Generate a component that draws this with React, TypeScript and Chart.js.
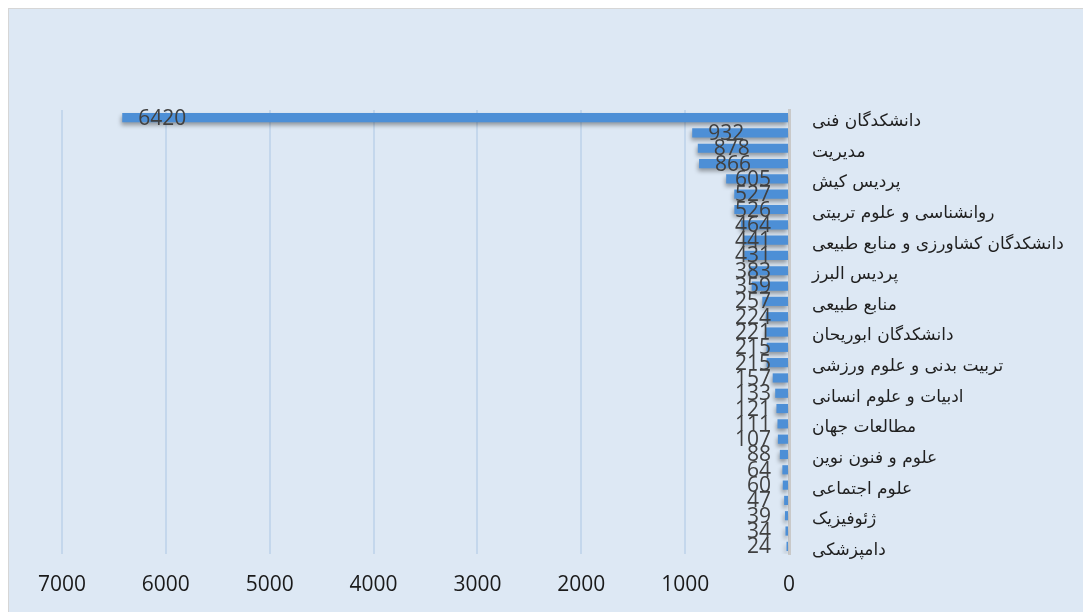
import React, { useEffect, useRef } from "react";
import { Chart, registerables } from "chart.js";

Chart.register(...registerables);

const categories: string[] = [
  "دانشکدگان فنی", "",
  "مدیریت", "",
  "پردیس کیش", "",
  "روانشناسی و علوم تربیتی", "",
  "دانشکدگان کشاورزی و منابع طبیعی", "",
  "پردیس البرز", "",
  "منابع طبیعی", "",
  "دانشکدگان ابوریحان", "",
  "تربیت بدنی و علوم ورزشی", "",
  "ادبیات و علوم انسانی", "",
  "مطالعات جهان", "",
  "علوم و فنون نوین", "",
  "علوم اجتماعی", "",
  "ژئوفیزیک", "",
  "دامپزشکی",
];

const values: number[] = [
  6420, 932, 878, 866, 605, 527, 526, 464, 441, 431,
  383, 359, 257, 224, 221, 215, 215, 157, 133, 121,
  111, 107, 88, 64, 60, 47, 39, 34, 24,
];

const xTicks: number[] = [0, 1000, 2000, 3000, 4000, 5000, 6000, 7000];

const NUM_FONT = "'Open Sans', 'Liberation Sans', sans-serif";
const FA_FONT = "'DejaVu Sans', sans-serif";

const shadowPlugin = {
  id: "barShadow",
  beforeDatasetsDraw(chart: any) {
    const ctx = chart.ctx;
    ctx.save();
    ctx.shadowColor = "rgba(0,0,0,0.35)";
    ctx.shadowBlur = 4;
    ctx.shadowOffsetX = -1;
    ctx.shadowOffsetY = 3;
  },
  afterDatasetsDraw(chart: any) {
    chart.ctx.restore();
  },
};

const valueLabelPlugin = {
  id: "valueLabels",
  afterDraw(chart: any) {
    const ctx = chart.ctx;
    const meta = chart.getDatasetMeta(0);
    const data = chart.data.datasets[0].data as number[];
    const maxRight = chart.chartArea.right - 18;
    ctx.save();
    ctx.font = `21px ${NUM_FONT}`;
    ctx.fillStyle = "#404040";
    ctx.textBaseline = "middle";
    ctx.textAlign = "left";
    meta.data.forEach((bar: any, i: number) => {
      const txt = String(data[i]);
      const w = ctx.measureText(txt).width;
      let x = bar.x + 16;
      if (x + w > maxRight) x = maxRight - w;
      ctx.fillText(txt, x, bar.y + 1);
    });
    ctx.restore();
  },
};

export default function App() {
  const ref = useRef<HTMLCanvasElement | null>(null);

  useEffect(() => {
    if (!ref.current) return;
    const chart = new Chart(ref.current, {
      type: "bar",
      data: {
        labels: categories,
        datasets: [
          {
            data: values,
            backgroundColor: "#4d8fd6",
            borderWidth: 0,
            barPercentage: 0.6,
            categoryPercentage: 1.0,
          },
        ],
      },
      options: {
        indexAxis: "y",
        animation: false,
        responsive: false,
        maintainAspectRatio: false,
        layout: { padding: { left: 53, top: 101, right: 0, bottom: 0 } },
        plugins: {
          legend: { display: false },
          tooltip: { enabled: false },
        },
        scales: {
          x: {
            type: "linear",
            reverse: true,
            min: 0,
            max: 7000,
            afterBuildTicks: (scale: any) => {
              scale.ticks = xTicks.map((v) => ({ value: v }));
            },
            afterFit: (scale: any) => {
              scale.height = 58;
            },
            ticks: {
              color: "#1a1a1a",
              font: { family: NUM_FONT, size: 21 },
              padding: 18,
              maxRotation: 0,
              callback: (v: any) => String(v),
            },
            grid: {
              color: "#c4d7ec",
              lineWidth: 2,
              drawTicks: false,
            },
            border: { display: false },
          },
          y: {
            position: "right",
            afterFit: (scale: any) => {
              scale.width = 294;
            },
            ticks: {
              autoSkip: false,
              color: "#1f1f1f",
              font: { family: FA_FONT, size: 17 },
              padding: 23,
              labelOffset: 4,
            },
            grid: { display: false, drawTicks: false },
            border: { display: true, color: "#c9c9c9", width: 3 },
          },
        },
      },
      plugins: [shadowPlugin, valueLabelPlugin],
    });
    return () => chart.destroy();
  }, []);

  return (
    <div
      style={{
        position: "fixed",
        left: 8,
        top: 8,
        width: 1075,
        height: 604,
        background: "#dde8f4",
        borderLeft: "1px solid #d6d6d6",
        borderTop: "1px solid #d6d6d6",
        boxSizing: "border-box",
        overflow: "hidden",
      }}
    >
      <canvas ref={ref} width={1074} height={603} style={{ display: "block" }} />
    </div>
  );
}
